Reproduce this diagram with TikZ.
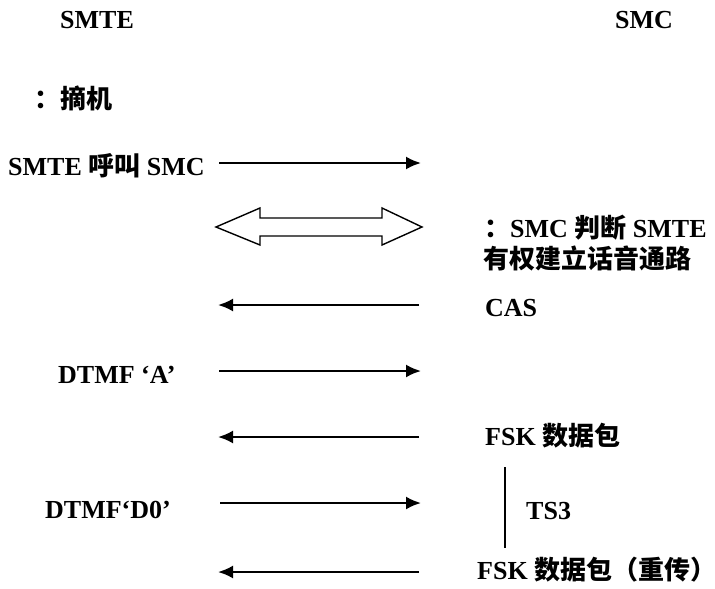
\documentclass[tikz,border=0pt]{standalone}
\usepackage{fontspec}
\setmainfont{Liberation Serif}
\newfontfamily\cjk{Noto Sans CJK SC}
\usetikzlibrary{arrows.meta}
\tikzset{
  lbl/.style={inner sep=0pt, anchor=base west, font=\fontsize{26}{30}\selectfont\bfseries},
  ttl/.style={inner sep=0pt, anchor=base, font=\fontsize{26}{30}\selectfont\bfseries},
  msg/.style={line width=2.2pt, -{Latex[length=15pt,width=13pt]}},
  bidir/.style={line width=1.4pt, line join=miter},
  timer/.style={line width=1.6pt}
}
\begin{document}
\begin{tikzpicture}[x=1pt,y=-1pt]
\useasboundingbox (0,0) rectangle (715,589);

% column headings
\node[ttl] (smte) at (97,28) {SMTE};
\node[ttl] (smc) at (644,28) {SMC};

% SMTE side
\node[lbl] (offhook) at (34,108) {{\cjk ：摘机}};
\node[lbl] (call) at (8,175) {SMTE {\cjk 呼叫} SMC};
\node[lbl] (dtmfa) at (58,383) {DTMF ‘A’};
\node[lbl] (dtmfd) at (45,518) {DTMF‘D0’};

% SMC side
\node[lbl] (judge) at (484,237) {{\cjk ：}SMC {\cjk 判断} SMTE};
\node[lbl] (path) at (483,268) {{\cjk 有权建立话音通路}};
\node[lbl] (cas) at (485,316) {CAS};
\node[lbl] (fsk) at (485,445) {FSK {\cjk 数据包}};
\node[lbl] (ts) at (526,519) {TS3};
\node[lbl] (fskre) at (477,579) {FSK {\cjk 数据包（重传\makebox[0.5em][l]{）}}};

% message end points
\coordinate (m1l) at (219,163);  \coordinate (m1r) at (421,163);
\coordinate (m3l) at (218,305);  \coordinate (m3r) at (419,305);
\coordinate (m4l) at (219,371);  \coordinate (m4r) at (421,371);
\coordinate (m5l) at (218,437);  \coordinate (m5r) at (419,437);
\coordinate (m6l) at (220,503);  \coordinate (m6r) at (421,503);
\coordinate (m7l) at (218,572);  \coordinate (m7r) at (419,572);

\draw[msg] (m1l) -- (m1r);
\draw[msg] (m3r) -- (m3l);
\draw[msg] (m4l) -- (m4r);
\draw[msg] (m5r) -- (m5l);
\draw[msg] (m6l) -- (m6r);
\draw[msg] (m7r) -- (m7l);

% voice path: hollow double arrow
\draw[bidir] (216,227) -- (260,208) -- (260,218) -- (382,218) -- (382,208)
  -- (422,227) -- (382,245) -- (382,236) -- (260,236) -- (260,245) -- cycle;

% retransmission timer
\coordinate (t1) at (505,467);
\coordinate (t2) at (505,548);
\draw[timer] (t1) -- (t2);
\end{tikzpicture}
\end{document}
